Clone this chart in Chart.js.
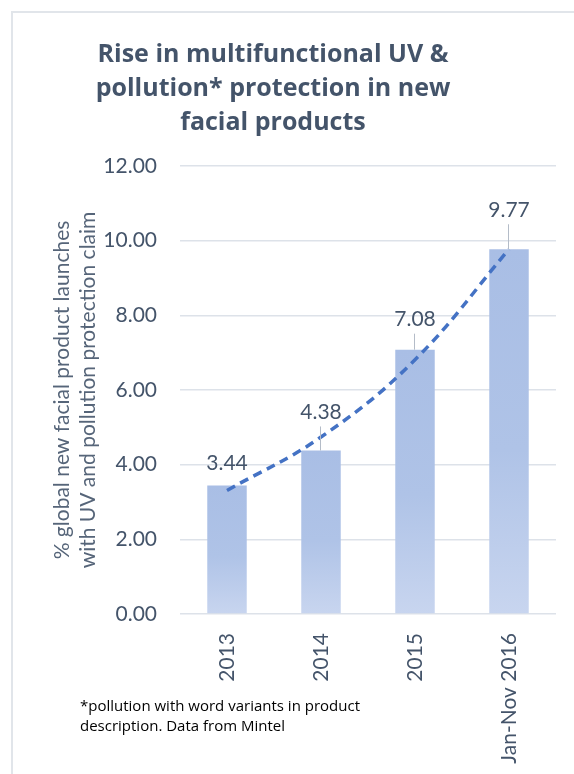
<!DOCTYPE html>
<html>
<head>
<meta charset="utf-8">
<script src="https://cdn.jsdelivr.net/npm/chart.js@4"></script>
<style>
  html, body { margin: 0; padding: 0; background: #fff; }
  #wrap { position: relative; width: 574px; height: 774px; overflow: hidden; }
  #frame { position: absolute; left: 11px; top: 11px; width: 700px; height: 900px; border: 2px solid #e1e5ea; box-sizing: border-box; }
  canvas { position: absolute; left: 0; top: 0; }
  #title { position: absolute; left: 73px; top: 35px; width: 400px; text-align: center; font: bold 25px "Open Sans", sans-serif; line-height: 34px; color: #44546A; }
  #note { position: absolute; left: 80px; top: 695px; font: 15px "Open Sans", sans-serif; line-height: 20px; color: #000; }
</style>
</head>
<body>
<div id="wrap">
  <div id="frame"></div>
  <canvas id="chart" width="574" height="774"></canvas>
  <div id="title">Rise in multifunctional UV &amp;<br>pollution* protection in new<br>facial products</div>
  <div id="note">*pollution with word variants in product<br>description. Data from Mintel</div>
</div>
<script>
// values
const categories = ['2013', '2014', '2015', 'Jan-Nov 2016'];
const launchShare = [3.44, 4.38, 7.08, 9.77];
const trendValues = [3.31, 4.74, 6.81, 9.77];
const yTicks = [0, 2, 4, 6, 8, 10, 12];

// how far each value label sits above its bar (px), as moved in the original
const labelLift = [22, 38, 30, 39];

const slate = '#44546A';

function barFill(ctx) {
  const chart = ctx.chart;
  const area = chart.chartArea;
  if (!area || ctx.dataIndex === undefined) return '#adc1e6';
  const y = chart.scales.y;
  const top = y.getPixelForValue(launchShare[ctx.dataIndex]);
  const bottom = y.getPixelForValue(0);
  const g = chart.ctx.createLinearGradient(0, top, 0, bottom);
  g.addColorStop(0, '#a9bee5');
  g.addColorStop(0.55, '#afc3e7');
  g.addColorStop(1, '#c8d5ef');
  return g;
}

const valueLabels = {
  id: 'valueLabels',
  afterDatasetsDraw(chart) {
    const ctx = chart.ctx;
    const meta = chart.getDatasetMeta(1);
    ctx.save();
    ctx.font = '21px Lato, sans-serif';
    ctx.fillStyle = slate;
    ctx.textAlign = 'center';
    ctx.textBaseline = 'middle';
    meta.data.forEach((bar, i) => {
      const cy = bar.y - labelLift[i];
      ctx.fillText(launchShare[i].toFixed(2), bar.x, cy);
      if (labelLift[i] > 25) {
        ctx.beginPath();
        ctx.strokeStyle = '#b4bcc8';
        ctx.lineWidth = 1;
        ctx.moveTo(bar.x - 0.5, cy + 14);
        ctx.lineTo(bar.x - 0.5, bar.y);
        ctx.stroke();
      }
    });
    ctx.restore();
  }
};

new Chart(document.getElementById('chart'), {
  data: {
    labels: categories,
    datasets: [
      {
        type: 'line',
        label: 'Trend',
        data: trendValues,
        borderColor: '#4472c4',
        borderWidth: 3.5,
        borderDash: [9, 6],
        pointRadius: 0,
        tension: 0.4,
        fill: false,
        order: 0
      },
      {
        type: 'bar',
        label: 'Share',
        data: launchShare,
        backgroundColor: barFill,
        barPercentage: 0.42,
        categoryPercentage: 1,
        order: 1
      }
    ]
  },
  options: {
    responsive: false,
    animation: false,
    layout: { padding: { left: 49, right: 18, top: 166, bottom: 10 } },
    plugins: {
      legend: { display: false },
      tooltip: { enabled: false },
      title: { display: false }
    },
    scales: {
      x: {
        grid: { display: false },
        border: { display: false },
        ticks: {
          color: slate,
          font: { family: 'Lato, sans-serif', size: 21 },
          maxRotation: 90,
          minRotation: 90,
          padding: 11
        },
        afterFit(scale) { scale.height = 150; }
      },
      y: {
        min: 0,
        max: 12,
        afterBuildTicks(scale) { scale.ticks = yTicks.map(v => ({ value: v })); },
        grid: { color: '#dde2e9', lineWidth: 1.5, drawTicks: false },
        border: { display: false },
        ticks: {
          color: slate,
          font: { family: 'Lato, sans-serif', size: 21 },
          padding: 23,
          callback: v => v.toFixed(2)
        },
        title: {
          display: true,
          text: ['% global new facial product launches', 'with UV and pollution protection claim'],
          color: '#566579',
          font: { family: 'Lato, sans-serif', size: 21, lineHeight: 26 / 21 },
          padding: { top: 0, bottom: 0 }
        },
        afterFit(scale) { scale.width = 131; }
      }
    }
  },
  plugins: [valueLabels]
});
</script>
</body>
</html>
